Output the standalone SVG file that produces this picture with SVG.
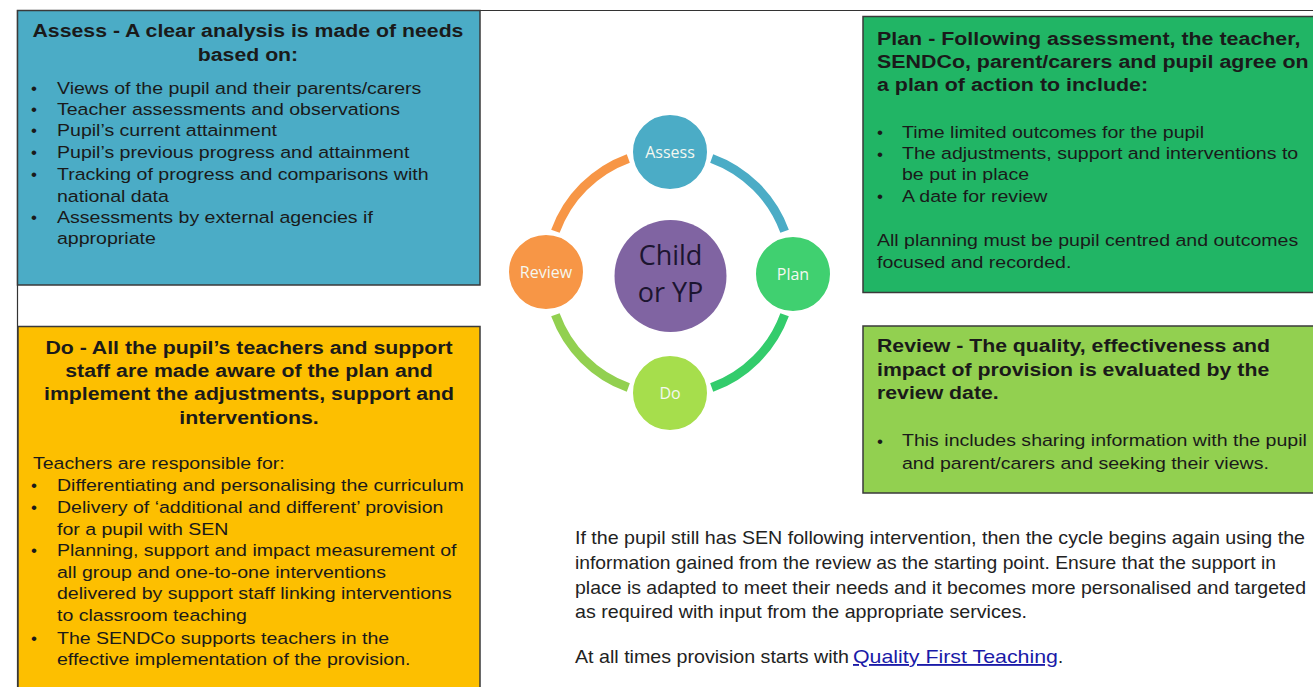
<svg xmlns="http://www.w3.org/2000/svg" width="1313" height="687" viewBox="0 0 1313 687">
<style>
.box{stroke:#3a3a3a;stroke-width:1.5}
.t{font-family:"Liberation Sans",Arial,sans-serif;fill:#1a1a1a}
.h{font-size:18.5px;font-weight:bold}
.b{font-size:17px}
.mid{text-anchor:middle}
.sx{transform-box:fill-box;transform-origin:0 0;transform:scaleX(1.15)}
.sxp{transform-box:fill-box;transform-origin:0 0;transform:scaleX(1.157)}
.sxm{transform-box:fill-box;transform-origin:50% 0;transform:scaleX(1.15)}
.nl{font-family:"Open Sans","Noto Sans",sans-serif;font-size:16px;fill:#f4f8f0;text-anchor:middle}
.arc{fill:none;stroke-width:9}
.node{stroke:#ffffff;stroke-width:2}
.p{font-family:"Liberation Sans",Arial,sans-serif;font-size:18.5px;fill:#222}
.link{fill:#1a1aa8;text-decoration:underline}
</style>
<rect width="1313" height="687" fill="#ffffff"/>
<path d="M17.5 687 V10.5 H1313" fill="none" stroke="#333" stroke-width="1.2"/>

<g id="assess-box">
<rect class="box" x="17.5" y="10.5" width="462.5" height="274.5" fill="#4bacc6"/>
<text class="t h mid sxm" x="248" y="37">Assess - A clear analysis is made of needs</text>
<text class="t h mid sxm" x="248" y="61">based on:</text>
<g class="t b">
<text x="31" y="94">•</text><text class="sx" x="57" y="94">Views of the pupil and their parents/carers</text>
<text x="31" y="115">•</text><text class="sx" x="57" y="115">Teacher assessments and observations</text>
<text x="31" y="136">•</text><text class="sx" x="57" y="136">Pupil’s current attainment</text>
<text x="31" y="158">•</text><text class="sx" x="57" y="158">Pupil’s previous progress and attainment</text>
<text x="31" y="180">•</text><text class="sx" x="57" y="180">Tracking of progress and comparisons with</text>
<text class="sx" x="57" y="202">national data</text>
<text x="31" y="223">•</text><text class="sx" x="57" y="223">Assessments by external agencies if</text>
<text class="sx" x="57" y="244">appropriate</text>
</g>
</g>

<g id="plan-box">
<rect class="box" x="863" y="16.5" width="460" height="276" fill="#21b565"/>
<text class="t h sxp" x="877" y="45">Plan - Following assessment, the teacher,</text>
<text class="t h sxp" x="877" y="68">SENDCo, parent/carers and pupil agree on</text>
<text class="t h sxp" x="877" y="91">a plan of action to include:</text>
<g class="t b">
<text x="877" y="138">•</text><text class="sx" x="902" y="138">Time limited outcomes for the pupil</text>
<text x="877" y="159.5">•</text><text class="sx" x="902" y="159.5">The adjustments, support and interventions to</text>
<text class="sx" x="902" y="180">be put in place</text>
<text x="877" y="202">•</text><text class="sx" x="902" y="202">A date for review</text>
<text class="sx" x="877" y="246">All planning must be pupil centred and outcomes</text>
<text class="sx" x="877" y="268">focused and recorded.</text>
</g>
</g>

<g id="do-box">
<rect class="box" x="18" y="326.5" width="462" height="380" fill="#fdbf00"/>
<text class="t h mid sxm" x="249" y="354">Do - All the pupil’s teachers and support</text>
<text class="t h mid sxm" x="249" y="377">staff are made aware of the plan and</text>
<text class="t h mid sxm" x="249" y="400.5">implement the adjustments, support and</text>
<text class="t h mid sxm" x="249" y="424">interventions.</text>
<g class="t b">
<text class="sx" x="33" y="469.5">Teachers are responsible for:</text>
<text x="31" y="491">•</text><text class="sx" x="57" y="491">Differentiating and personalising the curriculum</text>
<text x="31" y="513">•</text><text class="sx" x="57" y="513">Delivery of ‘additional and different’ provision</text>
<text class="sx" x="57" y="535">for a pupil with SEN</text>
<text x="31" y="556">•</text><text class="sx" x="57" y="556">Planning, support and impact measurement of</text>
<text class="sx" x="57" y="578">all group and one-to-one interventions</text>
<text class="sx" x="57" y="599">delivered by support staff linking interventions</text>
<text class="sx" x="57" y="621">to classroom teaching</text>
<text x="31" y="644">•</text><text class="sx" x="57" y="644">The SENDCo supports teachers in the</text>
<text class="sx" x="57" y="665">effective implementation of the provision.</text>
</g>
</g>

<g id="review-box">
<rect class="box" x="863" y="326" width="460" height="167" fill="#92d050"/>
<text class="t h sx" x="877" y="352">Review - The quality, effectiveness and</text>
<text class="t h sx" x="877" y="376">impact of provision is evaluated by the</text>
<text class="t h sx" x="877" y="399.5">review date.</text>
<g class="t b">
<text x="877" y="446.5">•</text><text class="sx" x="902" y="446.5">This includes sharing information with the pupil</text>
<text class="sx" x="902" y="469.5">and parent/carers and seeking their views.</text>
</g>
</g>

<g id="connectors">
<path class="arc" stroke="#4bacc6" d="M711.7 158.4 A122 122 0 0 1 784.6 231.3"/>
<path class="arc" stroke="#33cc6c" d="M784.6 314.7 A122 122 0 0 1 711.7 387.6"/>
<path class="arc" stroke="#92d050" d="M628.3 387.6 A122 122 0 0 1 555.4 314.7"/>
<path class="arc" stroke="#f79646" d="M555.4 231.3 A122 122 0 0 1 628.3 158.4"/>
</g>

<g id="node-child">
<circle cx="670.5" cy="276" r="56" fill="#8064a2"/>
<text x="670.5" y="265" font-family="'Open Sans','Noto Sans',sans-serif" font-size="27" fill="#1c1530" text-anchor="middle">Child</text>
<text x="670.5" y="302" font-family="'Open Sans','Noto Sans',sans-serif" font-size="27" fill="#1c1530" text-anchor="middle">or YP</text>
</g>
<g id="node-assess">
<circle class="node" cx="670" cy="152" r="38" fill="#4bacc6"/>
<text class="nl" x="670" y="158">Assess</text>
</g>
<g id="node-plan">
<circle class="node" cx="793" cy="274" r="38" fill="#40d070"/>
<text class="nl" x="793" y="280">Plan</text>
</g>
<g id="node-do">
<circle class="node" cx="670" cy="393" r="38" fill="#a6de4c"/>
<text class="nl" x="670" y="399">Do</text>
</g>
<g id="node-review">
<circle class="node" cx="546" cy="272" r="38" fill="#f79646"/>
<text class="nl" x="546" y="278">Review</text>
</g>

<g id="note">
<text class="p" x="575" y="544" textLength="730" lengthAdjust="spacingAndGlyphs">If the pupil still has SEN following intervention, then the cycle begins again using the</text>
<text class="p" x="575" y="569" textLength="701" lengthAdjust="spacingAndGlyphs">information gained from the review as the starting point. Ensure that the support in</text>
<text class="p" x="575" y="594" textLength="731" lengthAdjust="spacingAndGlyphs">place is adapted to meet their needs and it becomes more personalised and targeted</text>
<text class="p" x="575" y="618" textLength="452" lengthAdjust="spacingAndGlyphs">as required with input from the appropriate services.</text>
<text class="p" x="575" y="663" textLength="274" lengthAdjust="spacingAndGlyphs">At all times provision starts with</text>
<text class="p link" x="853" y="663" textLength="205" lengthAdjust="spacingAndGlyphs">Quality First Teaching</text>
<text class="p" x="1058" y="663">.</text>
</g>
</svg>
